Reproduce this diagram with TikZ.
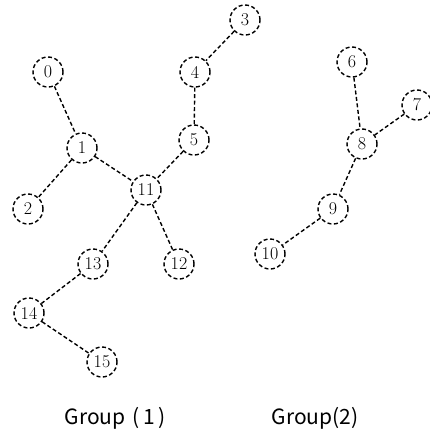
\documentclass[tikz,border=0pt]{standalone}
\usepackage{fontspec}
\newfontfamily\labelfont{Noto Sans CJK KR}
\begin{document}
\begin{tikzpicture}[x=1pt,y=-1pt,
  vert/.style={circle,draw,dash pattern=on 4pt off 2.5pt,line width=1.4pt,
    minimum size=30pt,inner sep=0pt,font=\fontsize{18}{18}\selectfont},
  link/.style={draw,line width=1.4pt,dash pattern=on 4pt off 2.5pt},
  caption/.style={font=\labelfont\fontsize{21}{21}\selectfont}]
\clip (0,0) rectangle (430,434);
\useasboundingbox (0,0) rectangle (430,434);
% Group 1
\node[vert] (n0) at (48,72) {0};
\node[vert] (n1) at (82,148) {1};
\node[vert] (n2) at (28,209) {2};
\node[vert] (n3) at (245,20) {3};
\node[vert] (n4) at (195,72) {4};
\node[vert] (n5) at (194,140) {5};
\node[vert] (n11) at (146,190) {11};
\node[vert] (n12) at (179,264) {12};
\node[vert] (n13) at (93,264) {13};
\node[vert] (n14) at (29,313) {14};
\node[vert] (n15) at (102,362) {15};
% Group 2
\node[vert] (n6) at (352,62) {6};
\node[vert] (n7) at (417,105) {7};
\node[vert] (n8) at (362,144) {8};
\node[vert] (n9) at (333,209) {9};
\node[vert] (n10) at (270,254) {10};
% edges
\draw[link] (n0) -- (n1);
\draw[link] (n1) -- (n2);
\draw[link] (n1) -- (n11);
\draw[link] (n3) -- (n4);
\draw[link] (n4) -- (n5);
\draw[link] (n5) -- (n11);
\draw[link] (n11) -- (n13);
\draw[link] (n11) -- (n12);
\draw[link] (n13) -- (n14);
\draw[link] (n14) -- (n15);
\draw[link] (n6) -- (n8);
\draw[link] (n7) -- (n8);
\draw[link] (n8) -- (n9);
\draw[link] (n9) -- (n10);
% captions
\node[caption] (g1) at (115,418) {Group\,\,(\,1\,)};
\node[caption] (g2) at (315,418) {Group(2)};
\end{tikzpicture}
\end{document}
